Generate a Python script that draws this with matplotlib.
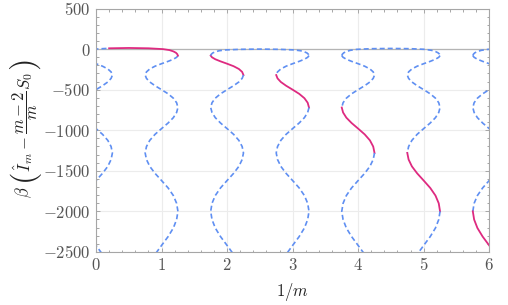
import numpy as np
import matplotlib.pyplot as plt
from matplotlib.ticker import MultipleLocator, FuncFormatter

plt.rcParams['mathtext.fontset'] = 'cm'
plt.rcParams['font.family'] = ['DejaVu Serif']

# lower branches: y levels (t = 1 .. 5.625 in steps of 1/8, y = beta(...)) and x offset from centre
y_levels = [-80, -101, -125, -151, -180, -211, -245, -281,
            -320, -361, -405, -451, -500, -551, -605, -661,
            -720, -781, -845, -911, -980, -1051, -1125, -1201,
            -1280, -1361, -1445, -1531, -1620, -1711, -1805, -1901,
            -2000, -2101, -2205, -2311, -2420, -2531]
wave = [-0.25, -0.23, -0.18, -0.10, 0.0, 0.10, 0.18, 0.23,
        0.25, 0.23, 0.18, 0.10, 0.0, -0.10, -0.18, -0.23,
        -0.25, -0.23, -0.18, -0.10, 0.0, 0.10, 0.18, 0.23,
        0.25, 0.23, 0.18, 0.10, 0.0, -0.10, -0.18, -0.23,
        -0.25, -0.23, -0.18, -0.10, 0.0, 0.10]

centres = [0, 1, 2, 3, 4, 5, 6]
signs = [1, -1, 1, -1, 1, -1, 1]
# index range (into y_levels) drawn as the solid branch, None = all dashed
solid_idx = [None, None, (0, 8), (8, 16), (16, 24), (24, 32), (32, 37)]

# upper arcs joining neighbouring branches near y = 0
arc_centres = [0.5, 2.5, 4.5, 6.5]
arc_dx = [-0.75, -0.74, -0.72, -0.68, -0.62, -0.52, -0.3, 0, 0.3, 0.52, 0.62, 0.68, 0.72, 0.74, 0.75]
arc_y = [
    [-80, -62, -45, -28, -12, 0, 10, 14, 10, 0, -12, -28, -45, -62, -80],
    [-80, -63, -48, -33, -20, -10, -3, 0, -3, -10, -20, -33, -48, -63, -80],
    [-80, -62, -46, -30, -15, -3, 5, 8, 5, -3, -15, -30, -46, -62, -80],
    [-80, -62, -46, -30, -15, -3, 5, 8, 5, -3, -15, -30, -46, -62, -80],
]
arc_solid_from = [6, None, None, None]

blue = '#5f8ff2'
pink = '#de2a80'
dash_kw = dict(color=blue, lw=1.2, dashes=(3.0, 1.8))
solid_kw = dict(color=pink, lw=1.3)

fig = plt.figure(figsize=(5.08, 3.05), dpi=100)
ax = fig.add_axes([0.189, 0.174, 0.774, 0.798])

ax.axhline(0, color='#b4b4b4', lw=0.9, zorder=1)

yl = np.array(y_levels)
wv = np.array(wave)
for c, s, si in zip(centres, signs, solid_idx):
    x = c + s * wv
    if si is None:
        ax.plot(x, yl, **dash_kw)
    else:
        a, b = si
        if a > 0:
            ax.plot(x[:a + 1], yl[:a + 1], **dash_kw)
        ax.plot(x[a:b + 1], yl[a:b + 1], **solid_kw)
        if b < len(yl) - 1:
            ax.plot(x[b:], yl[b:], **dash_kw)

for c, ya, sf in zip(arc_centres, arc_y, arc_solid_from):
    x = c + np.array(arc_dx)
    y = np.array(ya)
    if sf is None:
        ax.plot(x, y, **dash_kw)
    else:
        ax.plot(x[:sf + 1], y[:sf + 1], **dash_kw)
        ax.plot(x[sf:], y[sf:], **solid_kw)

ax.set_xlim(0, 6)
ax.set_ylim(-2500, 500)

ax.xaxis.set_major_locator(MultipleLocator(1))
ax.xaxis.set_minor_locator(MultipleLocator(0.2))
ax.yaxis.set_major_locator(MultipleLocator(500))
ax.yaxis.set_minor_locator(MultipleLocator(100))
fmt = FuncFormatter(lambda v, p: r'$%d$' % int(round(v)))
ax.xaxis.set_major_formatter(fmt)
ax.yaxis.set_major_formatter(fmt)

ax.grid(True, which='major', color='#ececec', lw=0.8)
ax.set_axisbelow(True)
for sp in ax.spines.values():
    sp.set_color('#a6a6a6')
    sp.set_linewidth(0.8)
ax.tick_params(which='both', direction='in', top=True, right=True, color='#a6a6a6',
               labelcolor='#555555', labelsize=12, width=0.7)
ax.tick_params(which='major', length=3.2, pad=4)
ax.tick_params(which='minor', length=1.8)

ax.set_xlabel(r'$1/m$', fontsize=12, color='#222222', labelpad=5)

# y label built from pieces so the parentheses can be tall
fig.canvas.draw()
rend = fig.canvas.get_renderer()
lab_x, lab_y = 25, 305 - 122
mid = fig.text(lab_x, lab_y, r'$\hat{I}_m-\dfrac{m-2}{m}S_0$', rotation=90, fontsize=12,
               color='#222222', ha='center', va='center', transform=None)
bb = mid.get_window_extent(rend)
rp = fig.text(lab_x + 1, bb.y1 + 1, r'$)$', rotation=90, fontsize=23, color='#222222',
              ha='center', va='bottom', transform=None)
lp = fig.text(lab_x + 1, bb.y0 - 1, r'$($', rotation=90, fontsize=23, color='#222222',
              ha='center', va='top', transform=None)
bl = lp.get_window_extent(rend)
fig.text(lab_x - 1, bl.y0 - 1, r'$\beta$', rotation=90, fontsize=12, color='#222222',
         ha='center', va='top', transform=None)

fig.savefig('out.png', dpi=100)
